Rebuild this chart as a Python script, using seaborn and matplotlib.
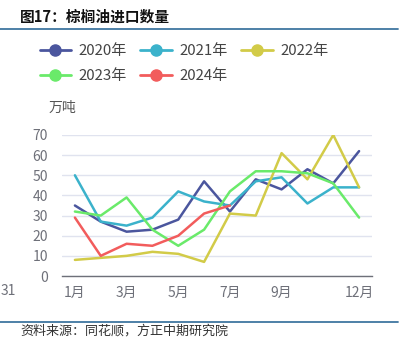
import matplotlib
matplotlib.use("Agg")
import matplotlib.pyplot as plt
from matplotlib.lines import Line2D
import seaborn as sns
import pandas as pd
import numpy as np

months = ["1月", "2月", "3月", "4月", "5月", "6月", "7月", "8月", "9月", "10月", "11月", "12月"]
shown_labels = ["1月", "3月", "5月", "7月", "9月", "12月"]
series_names = ["2020年", "2021年", "2022年", "2023年", "2024年"]
v2020 = [35, 27, 22, 23, 28, 47, 32, 48, 43, 53, 46, 62]
v2021 = [50, 27, 25, 29, 42, 37, 35, 47, 49, 36, 44, 44]
v2022 = [8, 9, 10, 12, 11, 7, 31, 30, 61, 48, 70, 44]
v2023 = [32, 30, 39, 23, 15, 23, 42, 52, 52, 51, 46, 29]
v2024 = [29, 10, 16, 15, 20, 31, 35]
colors = ["#4b569e", "#3bb2cb", "#d2cb48", "#6aea6a", "#f25c5c"]

sns.set_theme(style="white")
plt.rcParams["font.family"] = ["Noto Sans CJK SC", "DejaVu Sans"]

rows = []
for name, vals in zip(series_names, [v2020, v2021, v2022, v2023, v2024]):
    for i, v in enumerate(vals):
        rows.append({"series": name, "idx": i, "value": v})
df = pd.DataFrame(rows)

W, H = 406, 353
fig = plt.figure(figsize=(W / 100, H / 100), dpi=100)
L, R, T, B = 62, 372, 135, 276
ax = fig.add_axes([L / W, 1 - B / H, (R - L) / W, (B - T) / H])

sns.lineplot(data=df, x="idx", y="value", hue="series", palette=colors,
             hue_order=series_names, linewidth=1.8, ax=ax, legend=False,
             estimator=None, sort=False)

ax.set_xlim(-0.5, 11.5)
ax.set_ylim(0, 70)
ax.set_yticks(range(0, 71, 10))
ax.yaxis.grid(True, color="#e0e3ef", linewidth=1)
ax.set_axisbelow(True)
for s in ["top", "right", "left"]:
    ax.spines[s].set_visible(False)
ax.spines["bottom"].set_color("#6e7079")
ax.spines["bottom"].set_linewidth(1)
ax.set_xticks([-0.5, 1.5, 3.5, 5.5, 7.5, 9.5, 11.5])
ax.set_xticklabels([])
ax.tick_params(axis="x", which="major", length=5, width=1, color="#6e7079", direction="out")
lab_idx = [months.index(m) for m in shown_labels]
ax.set_xticks(lab_idx, minor=True)
ax.set_xticklabels(shown_labels, minor=True)
ax.tick_params(axis="x", which="minor", length=0, pad=7, labelsize=10, labelcolor="#6e7079")
ax.tick_params(axis="y", length=0, pad=10, labelsize=10, labelcolor="#6e7079")
ax.set_xlabel("")
ax.set_ylabel("")

# title and rules
fig.text(20 / W, 1 - 17 / H, "图17：棕榈油进口数量", fontsize=10.6, fontweight="bold",
         color="#111111", va="center", ha="left")
fig.add_artist(Line2D([0, 398 / W], [1 - 29 / H, 1 - 29 / H], color="#3f76a0", linewidth=1.3))
fig.add_artist(Line2D([0, 398 / W], [1 - 322 / H, 1 - 322 / H], color="#3f76a0", linewidth=1.3))
fig.text(20 / W, 1 - 331 / H, "资料来源：同花顺，方正中期研究院", fontsize=9.4, color="#333333",
         style="italic", va="center", ha="left")
fig.text(62 / W, 1 - 108 / H, "万吨", fontsize=10, color="#555555", va="center", ha="center")
fig.text(1 / W, 1 - 291 / H, "31", fontsize=10, color="#6e7079", va="center", ha="left")

# legend
handles = [Line2D([0], [0], color=c, linewidth=2, marker="o", markersize=8,
                  markerfacecolor=c, markeredgecolor=c) for c in colors]
order = [0, 3, 1, 4, 2]
leg = fig.legend([handles[i] for i in order], [series_names[i] for i in order],
                 ncol=3, loc="upper left", bbox_to_anchor=(26 / W, 1 - 31 / H),
                 frameon=False, fontsize=10.8, handlelength=2.1, handletextpad=0.5,
                 columnspacing=0.9, labelspacing=0.7, labelcolor="#444444")

fig.savefig("out.png", dpi=100)
